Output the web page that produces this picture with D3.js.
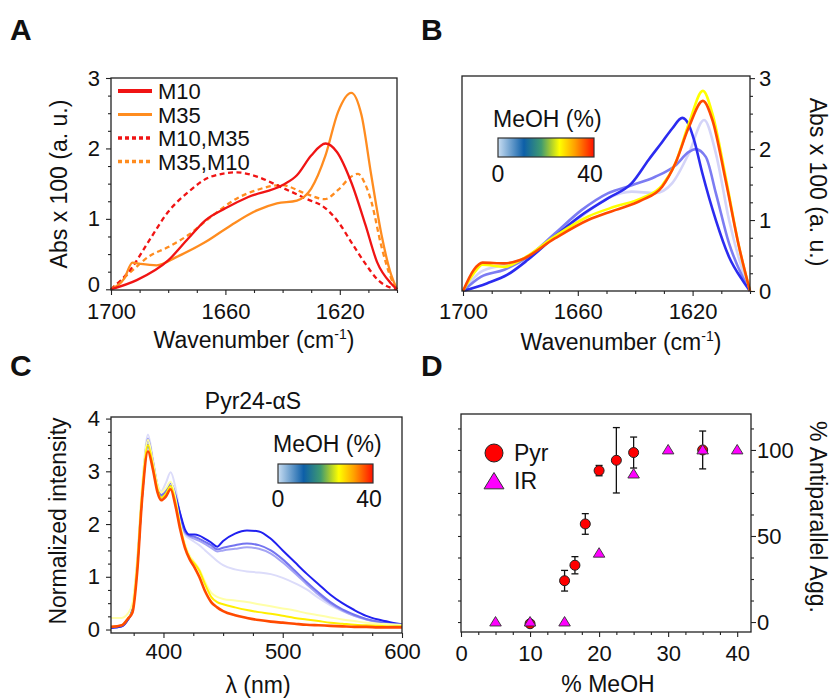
<!DOCTYPE html>
<meta charset="utf-8">
<style>
body { margin: 0; background: #fff; }
text { font-family: "Liberation Sans", Arial, sans-serif; fill: #111; }
</style>
<body>
<script src="https://d3js.org/d3.v7.min.js"></script>
<script>

var width = 832,
    height = 698;

// ---- A: IR spectra, [wavenumber, Abs x 100]
var m10 = [[1700,0],[1691,0.13],[1680,0.41],[1673,0.72],[1667,0.98],[1660,1.15],[1652,1.31],[1640,1.48],[1635,1.62],[1630,1.9],[1625,2.07],[1621,1.95],[1616,1.52],[1611,0.91],[1607,0.39],[1602,0.08],[1600,0]];
var m35 = [[1700,0],[1695.4,0.15],[1692.5,0.38],[1689.6,0.36],[1684,0.34],[1677,0.46],[1667,0.67],[1658,0.91],[1649,1.12],[1642,1.22],[1635,1.26],[1630,1.43],[1625,1.9],[1620.6,2.52],[1616,2.79],[1612.4,2.47],[1609,1.62],[1605.4,0.77],[1602,0.2],[1600,0]];
var m10m35 = [[1700,0],[1693,0.29],[1687,0.67],[1680,1.1],[1673,1.38],[1665,1.6],[1656,1.66],[1649,1.6],[1640.5,1.45],[1632,1.29],[1625,1.15],[1620.6,0.96],[1616,0.67],[1611,0.36],[1606.6,0.13],[1602,0.02],[1600,0]];
var m35m10 = [[1700,0],[1693,0.25],[1687,0.46],[1680,0.6],[1673,0.77],[1665,1.03],[1656,1.29],[1649,1.41],[1640.5,1.48],[1632,1.36],[1625.3,1.28],[1620.6,1.41],[1616,1.6],[1613.6,1.64],[1611.2,1.5],[1609,1.25],[1605.4,0.6],[1602,0.15],[1600,0]];
var legendA = ["M10", "M35", "M10,M35", "M35,M10"];

// ---- B: IR spectra vs MeOH
var irB0 = [[1700,0],[1691.5,0.11],[1684.5,0.23],[1677.4,0.44],[1668,0.77],[1658.7,1.07],[1649.4,1.31],[1641.2,1.52],[1635.3,1.85],[1630.6,2.1],[1627.1,2.29],[1623.6,2.44],[1621.3,2.34],[1619.5,2.13],[1616.6,1.66],[1611.9,1.0],[1607.3,0.48],[1602.6,0.15],[1600,0]];
var irB1 = [[1700,0],[1693.8,0.2],[1685.6,0.3],[1677.4,0.48],[1668,0.81],[1658.7,1.14],[1649.4,1.38],[1641.2,1.49],[1633,1.61],[1626,1.77],[1621.3,1.96],[1619,2.0],[1615.4,1.89],[1611.9,1.38],[1607.3,0.67],[1602.6,0.2],[1600,0]];
var irB2 = [[1700,0],[1693.8,0.27],[1685.6,0.37],[1677.4,0.48],[1668,0.76],[1658.7,1.05],[1649.4,1.31],[1641.2,1.4],[1633,1.38],[1627.1,1.52],[1621.3,1.94],[1616,2.41],[1611.9,1.94],[1607.3,1.0],[1602.6,0.29],[1600,0]];
var irB3 = [[1700,0],[1696.2,0.25],[1693.2,0.37],[1685.6,0.34],[1679.8,0.44],[1668,0.77],[1656.4,1.05],[1647,1.19],[1637.7,1.31],[1630.6,1.49],[1626,1.8],[1621.3,2.36],[1616.4,2.82],[1613.1,2.5],[1608.5,1.61],[1603.8,0.62],[1600,0]];
var irB4 = [[1700,0],[1696.2,0.3],[1693.2,0.4],[1685.6,0.39],[1679.8,0.44],[1668,0.74],[1656.4,1.0],[1647,1.14],[1637.7,1.28],[1630.6,1.47],[1626,1.8],[1621.3,2.31],[1616.4,2.68],[1613.1,2.41],[1608.5,1.56],[1603.8,0.62],[1600,0]];
var colorsB = ["#d4d4f8", "#7c7cf2", "#2b2bf0", "#ffff00", "#ff4a00"];

// ---- C: pyrene emission
var lam = [356,365,370,374,378,382,387,391,395,398,402,406,410,414,418,422,426,430,435,440,445,450,460,470,480,490,500,510,520,530,540,550,560,570,580,590,600];
var emLight = [0.03,0.06,0.2,0.4,1.3,2.65,3.7,3.25,2.75,2.62,2.78,2.98,2.7,2.2,1.8,1.72,1.66,1.6,1.5,1.4,1.3,1.22,1.14,1.1,1.08,1.05,0.98,0.88,0.76,0.6,0.46,0.35,0.26,0.19,0.14,0.11,0.08];
var emMid2 = [0.03,0.06,0.18,0.38,1.25,2.55,3.62,3.2,2.72,2.55,2.62,2.78,2.55,2.15,1.84,1.76,1.72,1.68,1.62,1.55,1.48,1.5,1.53,1.56,1.53,1.44,1.27,1.07,0.86,0.66,0.49,0.36,0.26,0.19,0.14,0.1,0.08];
var emMid1 = [0.03,0.06,0.18,0.38,1.25,2.55,3.6,3.2,2.72,2.55,2.62,2.78,2.56,2.18,1.86,1.78,1.76,1.72,1.66,1.6,1.52,1.55,1.6,1.63,1.6,1.5,1.33,1.12,0.9,0.7,0.52,0.38,0.28,0.2,0.15,0.11,0.08];
var emDark = [0.03,0.06,0.18,0.36,1.2,2.5,3.5,3.1,2.66,2.5,2.58,2.72,2.52,2.2,1.9,1.8,1.8,1.78,1.72,1.65,1.57,1.68,1.82,1.88,1.86,1.72,1.5,1.28,1.06,0.86,0.66,0.5,0.37,0.26,0.19,0.14,0.1];
var emPaleY = [0.22,0.22,0.3,0.5,1.35,2.7,3.6,3.2,2.75,2.6,2.68,2.8,2.5,2.0,1.62,1.4,1.28,1.15,0.9,0.7,0.62,0.58,0.55,0.52,0.48,0.44,0.4,0.36,0.31,0.27,0.23,0.19,0.16,0.13,0.11,0.1,0.09];
var emYellow = [0.05,0.08,0.2,0.35,1.2,2.55,3.5,3.12,2.66,2.5,2.58,2.72,2.42,1.95,1.58,1.36,1.25,1.12,0.85,0.62,0.52,0.48,0.42,0.37,0.33,0.3,0.26,0.22,0.19,0.16,0.13,0.11,0.09,0.08,0.07,0.06,0.06];
var emRed = [0.05,0.08,0.2,0.32,1.1,2.45,3.38,3.05,2.6,2.45,2.52,2.66,2.35,1.9,1.55,1.33,1.18,1.0,0.72,0.52,0.42,0.35,0.27,0.22,0.18,0.15,0.13,0.11,0.09,0.08,0.07,0.06,0.05,0.05,0.04,0.04,0.04];
var colorsC = ["#dcdcfa", "#a4a4f4", "#7474f0", "#2020f0", "#ffffa8", "#ffee00", "#ff4a00"];

// ---- D: % antiparallel aggregates
var pyrX = [10, 15, 16.5, 18, 20, 22.5, 25, 35];
var pyrY = [-1, 24, 33, 57, 88, 94, 98.5, 100];
var pyrErr = [1.5, 6, 5, 6, 3, 19, 9, 11];
var irX = [5, 10, 15, 20, 25, 30, 35, 40];
var irY = [0, 0, 0, 40, 86, 100, 100, 100];

// colour bar stops
var barStops = [[0,"#c8ddf2"],[0.27,"#0d5fa8"],[0.45,"#3f9a70"],[0.55,"#a8cc30"],[0.64,"#ffff00"],[0.8,"#ffa000"],[1,"#ff1000"]];

var svg = d3.select("body").append("svg")
    .attr("width", width)
    .attr("height", height);

var grad = svg.append("defs").append("linearGradient").attr("id", "meoh");
grad.selectAll("stop").data(barStops).enter().append("stop")
    .attr("offset", d => d[0])
    .attr("stop-color", d => d[1]);

function near(list, v) {
  return list.some(m => Math.abs(m - v) < 1e-6);
}

// axis with minor ticks, labels only on majors
function axis(orient, scale, ticks, majors, x0, y0, pad) {
  var fn = {bottom: d3.axisBottom, left: d3.axisLeft, right: d3.axisRight}[orient];
  var g = svg.append("g")
      .attr("transform", "translate(" + x0 + "," + y0 + ")")
      .call(fn(scale).tickValues(ticks)
          .tickFormat(d => near(majors, d) ? d3.format("")(+d.toFixed(3)) : "")
          .tickSize(5).tickSizeOuter(0).tickPadding(pad));
  g.select(".domain").remove();
  g.selectAll(".tick line").attr("stroke", "#222").attr("stroke-width", 1.1);
  g.selectAll(".tick").filter(d => !near(majors, d)).select("line")
      .attr(orient == "bottom" ? "y2" : "x2", orient == "left" ? -3 : 3);
  g.selectAll(".tick text").style("font-size", "22px").attr("fill", "#111")
      .style("font-family", '"Liberation Sans", Arial, sans-serif');
  return g;
}

function frame(x0, y0, x1, y1) {
  svg.append("rect")
      .attr("x", x0).attr("y", y0)
      .attr("width", x1 - x0).attr("height", y1 - y0)
      .attr("fill", "none").attr("stroke", "#222").attr("stroke-width", 1.3);
}

function label(txt, x, y, size, rot, weight) {
  var t = svg.append("text")
      .attr("transform", "translate(" + x + "," + y + ")" + (rot ? " rotate(" + rot + ")" : ""))
      .attr("text-anchor", rot === undefined ? "start" : "middle")
      .style("font-size", size + "px");
  if (weight) t.style("font-weight", weight);
  t.text(txt);
  return t;
}

function wavLabel(cx, y) {
  var t = svg.append("text").attr("x", cx).attr("y", y)
      .attr("text-anchor", "middle").style("font-size", "23px");
  t.append("tspan").text("Wavenumber (cm");
  t.append("tspan").attr("dy", -9).style("font-size", "14px").text("-1");
  t.append("tspan").attr("dy", 9).text(")");
}

function colorBar(x, y, w, h, tx, ty, ly) {
  svg.append("text").attr("x", tx).attr("y", ty).style("font-size", "23px").text("MeOH (%)");
  svg.append("rect").attr("x", x).attr("y", y).attr("width", w).attr("height", h)
      .attr("fill", "url(#meoh)").attr("stroke", "#333").attr("stroke-width", 1.2);
  svg.append("text").attr("x", x).attr("y", ly).attr("text-anchor", "middle").style("font-size", "23px").text("0");
  svg.append("text").attr("x", x + w - 4).attr("y", ly).attr("text-anchor", "middle").style("font-size", "23px").text("40");
}

var wnTicks = d3.range(1700, 1599, -10);

// ================= A =================
var xA = d3.scaleLinear().domain([1700, 1600]).range([111, 397]);
var yA = d3.scaleLinear().domain([-0.01, 3]).range([290, 78]);
var lineA = d3.line().x(d => xA(d[0])).y(d => yA(d[1])).curve(d3.curveMonotoneX);

var seriesA = [
  {data: m35m10, color: "#ff8c1f", dash: "5,3.5"},
  {data: m10m35, color: "#f01414", dash: "5,3.5"},
  {data: m35, color: "#ff8c1f", dash: null},
  {data: m10, color: "#f01414", dash: null}
];
svg.append("g").selectAll("path").data(seriesA).enter().append("path")
    .attr("d", d => lineA(d.data))
    .attr("fill", "none")
    .attr("stroke", d => d.color)
    .attr("stroke-width", 2.3)
    .attr("stroke-dasharray", d => d.dash);

frame(111, 78, 397, 290);
var yAxA = axis("left", yA, d3.range(0, 3.01, 0.25), [0, 1, 2, 3], 111, 0, 6);
// lift the "0" a touch so it clears the 1700 label
yAxA.selectAll(".tick text").filter(d => d == 0).attr("dy", "0.12em");
axis("bottom", xA, wnTicks, [1700, 1660, 1620], 0, 290, 8);

var legA = [
  {c: "#f01414", w: 4, dash: null},
  {c: "#ff8c1f", w: 3.2, dash: null},
  {c: "#f01414", w: 3.5, dash: "4,3"},
  {c: "#ff8c1f", w: 3.5, dash: "4,3"}
];
legendA.forEach(function(name, i) {
  var yy = 91 + i * 23.5;
  svg.append("line").attr("x1", 118).attr("x2", 152).attr("y1", yy).attr("y2", yy)
      .attr("stroke", legA[i].c).attr("stroke-width", legA[i].w)
      .attr("stroke-dasharray", legA[i].dash);
  svg.append("text").attr("x", 158).attr("y", yy + 8).style("font-size", "22px").text(name);
});

label("A", 10, 40, 30, undefined, "bold");
label("Abs x 100 (a. u.)", 67, 184, 23, -90);
wavLabel(254, 348);

// ================= B =================
var xB = d3.scaleLinear().domain([1700, 1600]).range([463, 750]);
var yB = d3.scaleLinear().domain([0, 3.03]).range([291, 76]);
var lineB = d3.line().x(d => xB(d[0])).y(d => yB(d[1])).curve(d3.curveMonotoneX);

var seriesB = [irB2, irB1, irB0, irB3, irB4];
svg.append("g").selectAll("path").data(seriesB).enter().append("path")
    .attr("d", d => lineB(d))
    .attr("fill", "none")
    .attr("stroke", (d, i) => colorsB[i])
    .attr("stroke-width", 2.6);

frame(462, 76, 750, 291);
axis("right", yB, d3.range(0, 3.01, 0.25), [0, 1, 2, 3], 750, 0, 4);
axis("bottom", xB, wnTicks, [1700, 1660, 1620], 0, 291, 7);
colorBar(498, 138, 96, 19, 493, 127, 182);

label("B", 421, 40, 30, undefined, "bold");
label("Abs x 100 (a. u.)", 810, 182, 23, 90);
wavLabel(621, 350);

// ================= C =================
var xC = d3.scaleLinear().domain([356, 600]).range([111, 402]);
var yC = d3.scaleLinear().domain([-0.066, 4.03]).range([633, 417]);
var lineC = d3.line().x((d, i) => xC(lam[i])).y(d => yC(d)).curve(d3.curveMonotoneX);

var seriesC = [emLight, emMid2, emMid1, emDark, emPaleY, emYellow, emRed];
svg.append("g").selectAll("path").data(seriesC).enter().append("path")
    .attr("d", d => lineC(d))
    .attr("fill", "none")
    .attr("stroke", (d, i) => colorsC[i])
    .attr("stroke-width", (d, i) => i == 6 ? 2.6 : 2);

frame(111, 417, 402, 633);
axis("left", yC, d3.range(0, 4.01, 0.25), [0, 1, 2, 3, 4], 111, 0, 6);
axis("bottom", xC, d3.range(375, 601, 25), [400, 500, 600], 0, 633, 5);
colorBar(278, 464, 95, 19, 273, 452, 507);

label("C", 10, 376, 30, undefined, "bold");
label("Pyr24-\u03b1S", 253, 409, 23, 0);
label("Normalized intensity", 66, 521, 23, -90);
label("\u03bb (nm)", 258, 693, 23, 0);

// ================= D =================
var xD = d3.scaleLinear().domain([0, 42]).range([461, 751]);
var yD = d3.scaleLinear().domain([-5.8, 120.9]).range([632, 414]);

frame(461, 414, 751, 632);
axis("right", yD, d3.range(0, 120, 12.5), [0, 50, 100], 751, 0, 1);
var mirror = axis("left", yD, d3.range(0, 120, 12.5), [], 461, 0, 3);
mirror.selectAll(".tick line").attr("x2", -3);
axis("bottom", xD, d3.range(0, 42, 2.5), [0, 10, 20, 30, 40], 0, 632, 8);

var pyr = pyrX.map((x, i) => ({x: x, y: pyrY[i], e: pyrErr[i]}));
var ir = irX.map((x, i) => ({x: x, y: irY[i]}));

var eb = svg.append("g").attr("stroke", "#111").attr("stroke-width", 1.3);
pyr.forEach(function(d) {
  var x = xD(d.x), y1 = yD(d.y - d.e), y2 = yD(d.y + d.e);
  eb.append("line").attr("x1", x).attr("x2", x).attr("y1", y1).attr("y2", y2);
  eb.append("line").attr("x1", x - 3.5).attr("x2", x + 3.5).attr("y1", y1).attr("y2", y1);
  eb.append("line").attr("x1", x - 3.5).attr("x2", x + 3.5).attr("y1", y2).attr("y2", y2);
});

svg.append("g").selectAll("circle").data(pyr).enter().append("circle")
    .attr("cx", d => xD(d.x))
    .attr("cy", d => yD(d.y))
    .attr("r", 5)
    .attr("fill", "#ff0000")
    .attr("stroke", "#222")
    .attr("stroke-width", 1);

function tri(s) {
  return "M0," + (-s) + "L" + (s * 1.05) + "," + (s * 0.72) + "L" + (-s * 1.05) + "," + (s * 0.72) + "Z";
}
svg.append("g").selectAll("path").data(ir).enter().append("path")
    .attr("transform", d => "translate(" + xD(d.x) + "," + yD(d.y) + ")")
    .attr("d", tri(5.5))
    .attr("fill", "#ff00ff")
    .attr("stroke", "#333")
    .attr("stroke-width", 0.9);

// legend D
svg.append("circle").attr("cx", 494).attr("cy", 453).attr("r", 9)
    .attr("fill", "#ff0000").attr("stroke", "#222");
svg.append("text").attr("x", 514).attr("y", 461).style("font-size", "23px").text("Pyr");
svg.append("path").attr("transform", "translate(494,482)").attr("d", tri(9.5))
    .attr("fill", "#ff00ff").attr("stroke", "#333");
svg.append("text").attr("x", 514).attr("y", 489).style("font-size", "23px").text("IR");

label("D", 421, 376, 30, undefined, "bold");
label("% Antiparallel Agg.", 810, 517, 23, 90);
label("% MeOH", 608, 692, 23, 0);

</script>
